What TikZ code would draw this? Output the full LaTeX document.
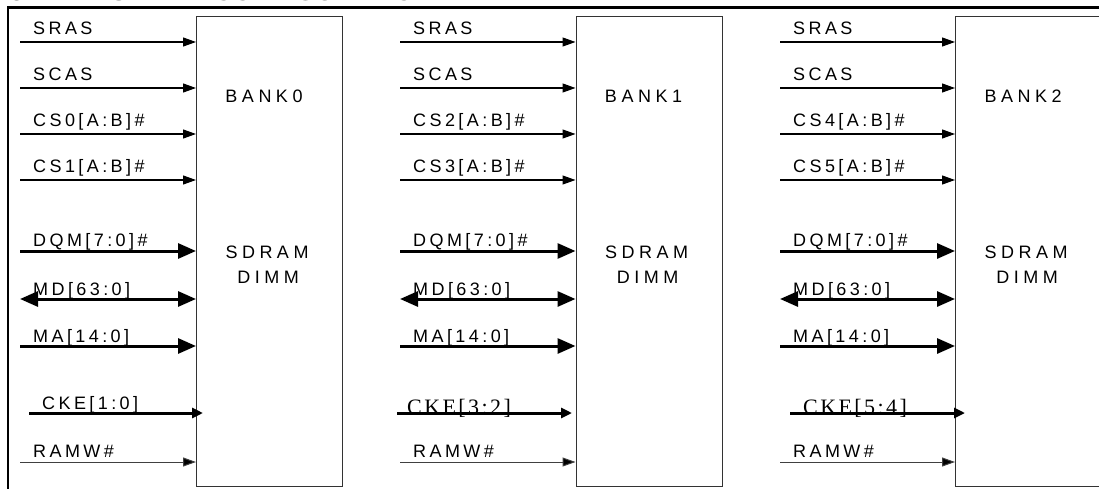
\documentclass[tikz,border=0pt]{standalone}
\usepackage{fontspec}
\setmainfont{Liberation Sans}
\newfontfamily\labfont[LetterSpace=19]{Liberation Sans}
\newfontfamily\bankfont[LetterSpace=25]{Liberation Sans}
\newfontfamily\ckefont[LetterSpace=11]{Liberation Serif}
\newfontfamily\titlefont{Liberation Sans Bold}
\usetikzlibrary{arrows.meta}
\tikzset{
  box/.style={draw=black!80, line width=1.1pt, anchor=north west, inner sep=0pt,
    minimum width=146pt, minimum height=470pt},
  lab/.style={anchor=base west, inner sep=0pt, font=\labfont\fontsize{18}{18}\selectfont},
  blab/.style={anchor=base, inner sep=0pt, font=\bankfont\fontsize{18}{18}\selectfont},
  clab/.style={anchor=base west, inner sep=0pt, font=\ckefont\fontsize{22}{22}\selectfont},
  sig/.style={line width=1.2pt, -{Triangle[length=13pt,width=9pt]}},
  sigr/.style={line width=1pt, draw=black!75, -{Triangle[length=13pt,width=9pt,fill=black]}},
  bus/.style={line width=3pt, -{Triangle[length=18pt,width=15pt]}},
  bibus/.style={line width=3pt, {Triangle[length=18pt,width=15pt]}-{Triangle[length=18pt,width=15pt]}},
  ckebus/.style={line width=3pt, -{Triangle[length=11pt,width=10pt]}},
  frame/.style={line width=2.5pt, line cap=rect}
}
\begin{document}
\begin{tikzpicture}[x=1pt,y=-1pt]
\useasboundingbox (0,0) rectangle (1099,489);
\begin{scope}
\clip (0,0) rectangle (1099,489);
% title (cut off at the top)
\node[anchor=base west, inner sep=0pt] (t1) at (9,1) {\resizebox{62pt}{!}{\titlefont\fontsize{20}{20}\selectfont 5.2.1}};
\node[anchor=base west, inner sep=0pt] (t2) at (110,1) {\resizebox{323pt}{!}{\titlefont\fontsize{20}{20}\selectfont SDRAM CONFIGURATION}};
% frame
\draw[frame] (8,7.5) coordinate (fa) -- (1105,7.5) coordinate (fb);
\draw[frame] (fa) -- (8,495);
% banks
\foreach \k/\bx/\sx/\csa/\csb in {0/196/20/CS0/CS1, 1/575.5/400/CS2/CS3, 2/955/780/CS4/CS5}{
  \node[box] (b\k) at (\bx,16) {};
  \node[blab] (bk\k) at (\bx+68,103) {BANK\k};
  \node[blab] (sd\k) at (\bx+71,258) {SDRAM};
  \node[blab] (di\k) at (\bx+72,283) {DIMM};
  % labels
  \node[lab] (la\k) at (\sx+13,35) {SRAS};
  \node[lab] (lb\k) at (\sx+13,81) {SCAS};
  \node[lab] (lc\k) at (\sx+13,127) {\csa[A:B]\#};
  \node[lab] (ld\k) at (\sx+13,173) {\csb[A:B]\#};
  \node[lab] (le\k) at (\sx+13,246) {DQM[7:0]\#};
  \node[lab] (lf\k) at (\sx+13,295) {MD[63:0]};
  \node[lab] (lg\k) at (\sx+13,342) {MA[14:0]};
  \node[lab] (li\k) at (\sx+13,457) {RAMW\#};
  % connectors
  \coordinate (sa\k) at (\sx,42);
  \coordinate (sb\k) at (\sx,88);
  \coordinate (sc\k) at (\sx,134);
  \coordinate (sd\k) at (\sx,180);
  \coordinate (se\k) at (\sx,251);
  \coordinate (sf\k) at (\sx,299);
  \coordinate (sg\k) at (\sx,346);
  \coordinate (si\k) at (\sx,462);
  \draw[sig] (sa\k) -- (sa\k -| b\k.west);
  \draw[sig] (sb\k) -- (sb\k -| b\k.west);
  \draw[sig] (sc\k) -- (sc\k -| b\k.west);
  \draw[sig] (sd\k) -- (sd\k -| b\k.west);
  \draw[bus] (se\k) -- (se\k -| b\k.west);
  \draw[bibus] (sf\k) -- (sf\k -| b\k.west);
  \draw[bus] (sg\k) -- (sg\k -| b\k.west);
  \draw[sigr] (si\k) -- (si\k -| b\k.west);
}
% CKE rows
\node[lab] (lh0) at (42,409) {CKE[1:0]};
\node[clab] (lh1) at (407,414) {CKE[3:2]};
\node[clab] (lh2) at (803,414) {CKE[5:4]};
\coordinate (sh0) at (29,413);
\coordinate (sh1) at (397,413);
\coordinate (sh2) at (790,413);
\coordinate (eh0) at ([xshift=7pt]b0.west |- sh0);
\coordinate (eh1) at ([xshift=-3.5pt]b1.west |- sh1);
\coordinate (eh2) at ([xshift=10pt]b2.west |- sh2);
\draw[ckebus] (sh0) -- (eh0);
\draw[ckebus] (sh1) -- (eh1);
\draw[ckebus] (sh2) -- (eh2);
\end{scope}
\end{tikzpicture}
\end{document}
